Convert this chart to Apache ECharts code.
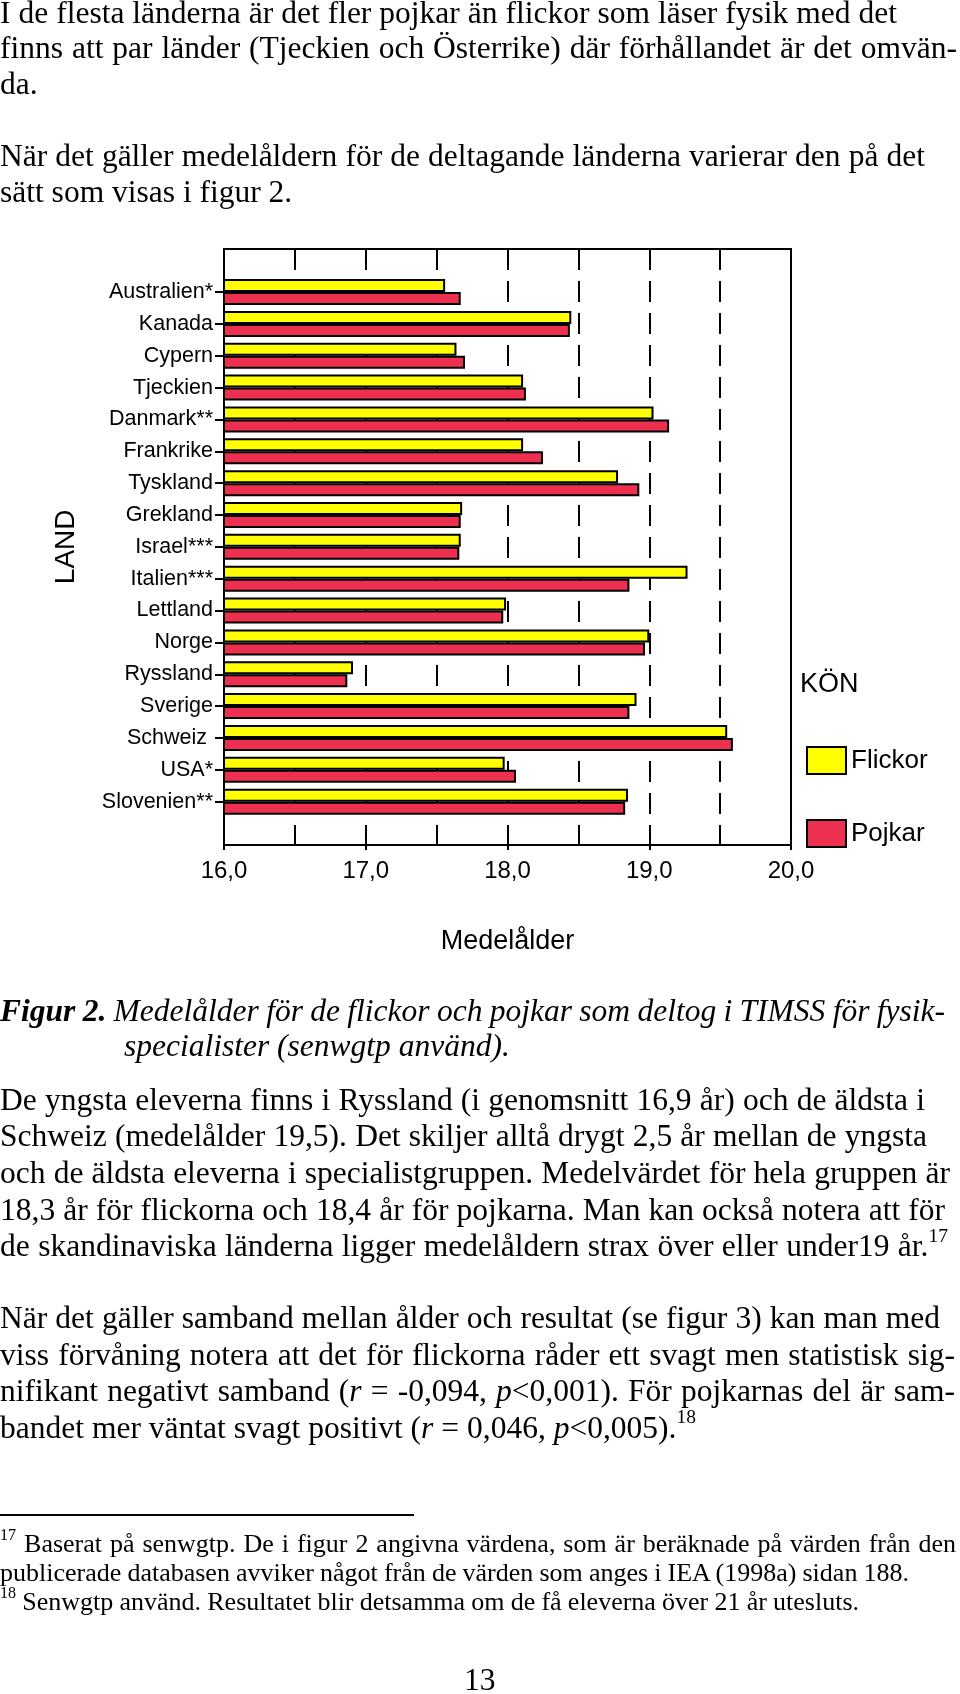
<!DOCTYPE html>
<html>
<head>
<meta charset="utf-8">
<script src="https://cdn.jsdelivr.net/npm/echarts@6/dist/echarts.min.js"></script>
<style>
  html, body { margin: 0; padding: 0; background: #fff; }
  #page { position: relative; width: 960px; height: 1694px; overflow: hidden; background: #fff; }
  #chart { position: absolute; left: 0; top: 0; width: 960px; height: 1694px; }
  .ln { position: absolute; left: 0; white-space: nowrap; font-family: "Liberation Serif", "Times New Roman", serif; color: #000; }
  .sup { font-size: 0.62em; position: relative; top: -0.75em; word-spacing: 0; }
</style>
</head>
<body>
<div id="page">
  <div id="chart"></div>
</div>
<script>
// ---- data ----
const categories = ['Australien*', 'Kanada', 'Cypern', 'Tjeckien', 'Danmark**', 'Frankrike', 'Tyskland', 'Grekland', 'Israel***', 'Italien***', 'Lettland', 'Norge', 'Ryssland', 'Sverige', 'Schweiz ', 'USA*', 'Slovenien**'];
const flickor = [17.56, 18.45, 17.64, 18.11, 19.03, 18.11, 18.78, 17.68, 17.67, 19.27, 17.99, 19.00, 16.91, 18.91, 19.55, 17.98, 18.85];
const pojkar  = [17.67, 18.44, 17.70, 18.13, 19.14, 18.25, 18.93, 17.67, 17.66, 18.86, 17.97, 18.97, 16.87, 18.86, 19.59, 18.06, 18.83];
const seriesNames = ['Flickor', 'Pojkar'];
const axisMin = 16;
const axisMax = 20;
const axisStep = 1;

// ---- page text: [baseline, font size, right edge target (0 = natural), extra style, html] ----
const textLines = [
  [23, 31.5, 897, '', 'I de flesta länderna är det fler pojkar än flickor som läser fysik med det'],
  [58.5, 31.5, 957, '', 'finns att par länder (Tjeckien och Österrike) där förhållandet är det omvän-'],
  [94, 31.5, 0, '', 'da.'],
  [166.5, 31.5, 925, '', 'När det gäller medelåldern för de deltagande länderna varierar den på det'],
  [202, 31.5, 0, '', 'sätt som visas i figur 2.'],
  [1021.7, 31.5, 945, '', '<b><i>Figur 2.</i></b><i> Medelålder för de flickor och pojkar som deltog i TIMSS för fysik-</i>'],
  [1056.7, 31.5, 0, 'padding-left:124px', '<i>specialister (senwgtp använd).</i>'],
  [1110, 31.5, 925, '', 'De yngsta eleverna finns i Ryssland (i genomsnitt 16,9 år) och de äldsta i'],
  [1146.7, 31.5, 927, '', 'Schweiz (medelålder 19,5). Det skiljer alltå drygt 2,5 år mellan de yngsta'],
  [1183.3, 31.5, 950, '', 'och de äldsta eleverna i specialistgruppen. Medelvärdet för hela gruppen är'],
  [1220, 31.5, 945, '', '18,3 år för flickorna och 18,4 år för pojkarna. Man kan också notera att för'],
  [1256.7, 31.5, 948, '', 'de skandinaviska länderna ligger medelåldern strax över eller under19 år.<span class="sup">17</span>'],
  [1328, 31.5, 940, '', 'När det gäller samband mellan ålder och resultat (se figur 3) kan man med'],
  [1365, 31.5, 955, '', 'viss förvåning notera att det för flickorna råder ett svagt men statistisk sig-'],
  [1401.7, 31.5, 955, '', 'nifikant negativt samband (<i>r</i> = -0,094, <i>p</i>&lt;0,001). För pojkarnas del är sam-'],
  [1438.3, 31.5, 696, '', 'bandet mer väntat svagt positivt (<i>r</i> = 0,046, <i>p</i>&lt;0,005).<span class="sup">18</span>'],
  [1553, 26, 956, '', '<span class="sup">17</span> Baserat på senwgtp. De i figur 2 angivna värdena, som är beräknade på värden från den'],
  [1582, 26, 909, '', 'publicerade databasen avviker något från de värden som anges i IEA (1998a) sidan 188.'],
  [1611, 26, 859, '', '<span class="sup">18</span> Senwgtp använd. Resultatet blir detsamma om de få eleverna över 21 år utesluts.'],
  [1690, 31.5, 0, 'left:464px', '13']
];
const page = document.getElementById('page');
const lineDivs = [];
textLines.forEach(l => {
  const d = document.createElement('div');
  d.className = 'ln';
  d.style.cssText = 'top:' + (l[0] - 0.8375 * l[1]) + 'px;font-size:' + l[1] + 'px;line-height:' + l[1] + 'px;' + l[3];
  d.innerHTML = l[4];
  page.appendChild(d);
  lineDivs.push([d, l[2]]);
});
function fitLines() {
  lineDivs.forEach(([d, target]) => {
    if (!target) return;
    d.style.wordSpacing = '0px';
    const w = d.getBoundingClientRect().width;
    const spaces = (d.textContent.match(/ /g) || []).length;
    if (spaces > 0) d.style.wordSpacing = ((target - w) / spaces) + 'px';
  });
}
fitLines();
if (document.fonts && document.fonts.ready) document.fonts.ready.then(fitLines);
const rule = document.createElement('div');
rule.style.cssText = 'position:absolute;left:0;top:1514px;width:414px;height:2px;background:#000;';
page.appendChild(rule);

// ---- chart ----
const chart = echarts.init(document.getElementById('chart'), null, { renderer: 'canvas' });
const font = '"Liberation Sans", Arial, Helvetica, sans-serif';
const dashed = { color: '#000', width: 2, type: [21, 11] };
const gridL = 224, gridW = 567;
chart.setOption({
  animation: false,
  textStyle: { fontFamily: font, color: '#000' },
  title: {
    text: 'KÖN', left: 800, top: 671, padding: 0,
    textStyle: { fontFamily: font, fontSize: 27, fontWeight: 'normal', color: '#000' }
  },
  legend: {
    data: seriesNames, orient: 'vertical', left: 806, top: 746, padding: 0,
    itemWidth: 39, itemHeight: 27, itemGap: 44, icon: 'rect',
    itemStyle: { borderColor: '#000', borderWidth: 2 },
    textStyle: { fontFamily: font, fontSize: 26, color: '#000' }
  },
  grid: [
    { left: gridL, top: 249, width: gridW, height: 596, show: true, borderColor: '#000', borderWidth: 2, backgroundColor: 'transparent' },
    { left: gridL, top: 276.1, width: gridW, height: 541.5 }
  ],
  xAxis: [
    {
      gridIndex: 0, type: 'value', min: axisMin, max: axisMax, interval: axisStep,
      axisLine: { show: true, lineStyle: { color: '#000', width: 2 } },
      axisTick: { show: true, length: 5, lineStyle: { color: '#000', width: 2 } },
      axisLabel: { fontFamily: font, fontSize: 24, color: '#000', margin: 14,
        formatter: v => v.toFixed(1).replace('.', ',') },
      splitLine: { show: true, lineStyle: dashed },
      minorTick: { show: false, splitNumber: 2 },
      minorSplitLine: { show: true, lineStyle: dashed },
      name: 'Medelålder', nameLocation: 'middle', nameGap: 83,
      nameTextStyle: { fontFamily: font, fontSize: 27, color: '#000' }
    },
    { gridIndex: 1, type: 'value', min: axisMin, max: axisMax, show: false }
  ],
  yAxis: [
    { gridIndex: 0, type: 'value', min: 0, max: 1, show: false, splitLine: { show: false } },
    {
      gridIndex: 1, type: 'category', data: categories, inverse: true,
      axisLine: { show: false },
      axisTick: { show: true, alignWithLabel: true, length: 9, lineStyle: { color: '#000', width: 2 } },
      axisLabel: { fontFamily: font, fontSize: 21.5, color: '#000', margin: 11 },
      name: 'LAND', nameLocation: 'middle', nameGap: 144, nameRotate: 90,
      nameTextStyle: { fontFamily: font, fontSize: 28, color: '#000' }
    }
  ],
  series: [
    { name: seriesNames[0], type: 'bar', xAxisIndex: 1, yAxisIndex: 1, data: flickor,
      barWidth: 13, barGap: '0%',
      itemStyle: { color: '#FFFF00', borderColor: '#000', borderWidth: 2 } },
    { name: seriesNames[1], type: 'bar', xAxisIndex: 1, yAxisIndex: 1, data: pojkar,
      barWidth: 13, barGap: '0%',
      itemStyle: { color: '#EE3050', borderColor: '#000', borderWidth: 2 } }
  ]
});
</script>
</body>
</html>
